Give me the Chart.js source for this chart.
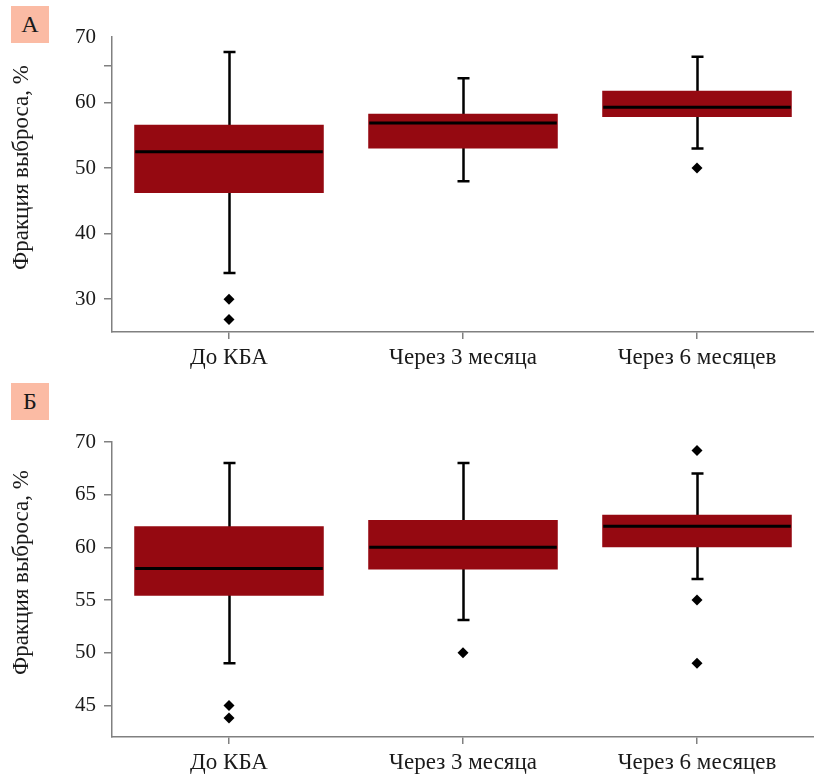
<!DOCTYPE html>
<html lang="ru">
<head>
  <meta charset="UTF-8">
  <title>Фракция выброса</title>
  <script src="https://cdn.jsdelivr.net/npm/chart.js"></script>
  <style>
    body { margin: 0; background: #fff; width: 814px; height: 775px; position: relative; overflow: hidden; }
    .panel { position: absolute; left: 0; width: 814px; }
    .tag {
      position: absolute; left: 11px; width: 38px; height: 37px;
      background: #fbbba4; color: #1a1a1a;
      font: 24px "Liberation Serif", serif; line-height: 37px; text-align: center;
    }
  </style>
</head>
<body>

  <div class="panel" style="top: 0; height: 375px;"><canvas id="chartA"></canvas></div>
  <div class="panel" style="top: 378px; height: 397px;"><canvas id="chartB"></canvas></div>
  <div class="tag" style="top: 6px;">А</div>
  <div class="tag" style="top: 383px;">Б</div>

  <script>
    const categories = ['До КБА', 'Через 3 месяца', 'Через 6 месяцев'];
    const yTitle = 'Фракция выброса, %';

    // Панель А
    const aQ1 = [46.2, 53.0, 57.8];
    const aQ3 = [56.6, 58.3, 61.8];
    const aMedian = [52.5, 56.9, 59.3];
    const aMin = [34.0, 48.0, 53.0];
    const aMax = [67.7, 63.7, 67.0];
    const aOutliers = [[30, 26.9], [], [50]];
    const aExtraTicks = [65.6];   // на оригинале лишняя засечка без подписи
    const aNoMark = [70];          // у верхней подписи засечки нет

    // Панель Б
    const bQ1 = [55.4, 57.9, 60.0];
    const bQ3 = [62.0, 62.6, 63.1];
    const bMedian = [58.0, 60.0, 62.0];
    const bMin = [49.0, 53.1, 57.0];
    const bMax = [68.0, 68.0, 67.0];
    const bOutliers = [[45, 43.8], [50], [69.2, 55, 49]];

    const boxColor = '#950911';
    const axisColor = '#808080';
    const textColor = '#1a1a1a';
    const serif = '"Liberation Serif", "Times New Roman", serif';

    // усы, медианы и подпись оси рисуем по шкалам графика
    function boxParts(mins, maxs, medians) {
      return {
        id: 'boxParts',
        beforeDatasetsDraw(chart) {
          const { ctx, scales: { x, y } } = chart;
          ctx.save();
          ctx.strokeStyle = '#000';
          ctx.lineWidth = 2.5;
          mins.forEach((v, i) => {
            const cx = Math.round(x.getPixelForValue(i)) + 0.5;
            const yMin = y.getPixelForValue(v);
            const yMax = y.getPixelForValue(maxs[i]);
            ctx.beginPath();
            ctx.moveTo(cx, yMin);
            ctx.lineTo(cx, yMax);
            ctx.moveTo(cx - 6, yMin);
            ctx.lineTo(cx + 6, yMin);
            ctx.moveTo(cx - 6, yMax);
            ctx.lineTo(cx + 6, yMax);
            ctx.stroke();
          });
          ctx.restore();
        },
        afterDatasetsDraw(chart) {
          const { ctx, scales: { y } } = chart;
          const bars = chart.getDatasetMeta(0).data;
          ctx.save();
          ctx.strokeStyle = '#000';
          ctx.lineWidth = 3;
          medians.forEach((v, i) => {
            const bar = bars[i];
            const ym = y.getPixelForValue(v);
            ctx.beginPath();
            ctx.moveTo(bar.x - bar.width / 2 + 1, ym);
            ctx.lineTo(bar.x + bar.width / 2 - 1, ym);
            ctx.stroke();
          });
          ctx.restore();
        },
        afterDraw(chart) {
          const { ctx, chartArea } = chart;
          ctx.save();
          ctx.translate(22, (chartArea.top + chartArea.bottom) / 2 - 17);
          ctx.rotate(-Math.PI / 2);
          ctx.fillStyle = textColor;
          ctx.font = '23px ' + serif;
          ctx.textAlign = 'center';
          ctx.textBaseline = 'middle';
          ctx.fillText(yTitle, 0, 0);
          ctx.restore();
        }
      };
    }

    function makeChart(id, q1, q3, medians, mins, maxs, outliers, yMin, yMax, step, padTop, xHeight, extraTicks, noMark) {
      const boxes = q1.map((v, i) => [v, q3[i]]);
      const points = [];
      outliers.forEach((list, i) => list.forEach(v => points.push({ x: categories[i], y: v })));

      new Chart(document.getElementById(id), {
        type: 'bar',
        data: {
          labels: categories,
          datasets: [{
            type: 'bar',
            data: boxes,
            backgroundColor: boxColor,
            borderWidth: 0,
            borderSkipped: false,
            barPercentage: 0.81,
            categoryPercentage: 1,
            order: 2
          }, {
            type: 'line',
            data: points,
            showLine: false,
            pointStyle: 'rectRot',
            pointRadius: 5.5,
            pointBackgroundColor: '#000',
            pointBorderWidth: 0,
            clip: false,
            order: 1
          }]
        },
        options: {
          responsive: true,
          maintainAspectRatio: false,
          animation: false,
          layout: { autoPadding: false, padding: { top: padTop, left: 0, right: 0, bottom: 0 } },
          plugins: { legend: { display: false }, tooltip: { enabled: false } },
          scales: {
            x: {
              offset: true,
              grid: { offset: false, drawOnChartArea: false, tickLength: 7, color: axisColor, lineWidth: 1.5 },
              border: { color: axisColor, width: 1.5 },
              ticks: { color: textColor, font: { family: serif, size: 23 }, padding: 5, maxRotation: 0 },
              afterFit: s => { s.height = xHeight; }
            },
            y: {
              min: yMin,
              max: yMax,
              ticks: {
                stepSize: step, autoSkip: false, color: textColor, font: { family: serif, size: 21 }, padding: 8,
                callback: v => extraTicks.includes(v) ? '' : v
              },
              afterBuildTicks: s => {
                s.ticks = s.ticks.filter(t => t.value % step === 0);
                extraTicks.forEach(v => s.ticks.push({ value: v }));
                s.ticks.sort((a, b) => a.value - b.value);
              },
              grid: {
                drawOnChartArea: false, tickLength: 8, lineWidth: 1.5,
                color: c => (c.tick && noMark.includes(c.tick.value)) ? 'rgba(0,0,0,0)' : axisColor
              },
              border: { color: axisColor, width: 1.5 },
              afterFit: s => { s.width = 112; }
            }
          }
        },
        plugins: [boxParts(mins, maxs, medians)]
      });
    }

    makeChart('chartA', aQ1, aQ3, aMedian, aMin, aMax, aOutliers, 25, 70, 10, 37, 43, aExtraTicks, aNoMark);
    makeChart('chartB', bQ1, bQ3, bMedian, bMin, bMax, bOutliers, 42, 70, 5, 64, 38, [], []);
  </script>
</body>
</html>
